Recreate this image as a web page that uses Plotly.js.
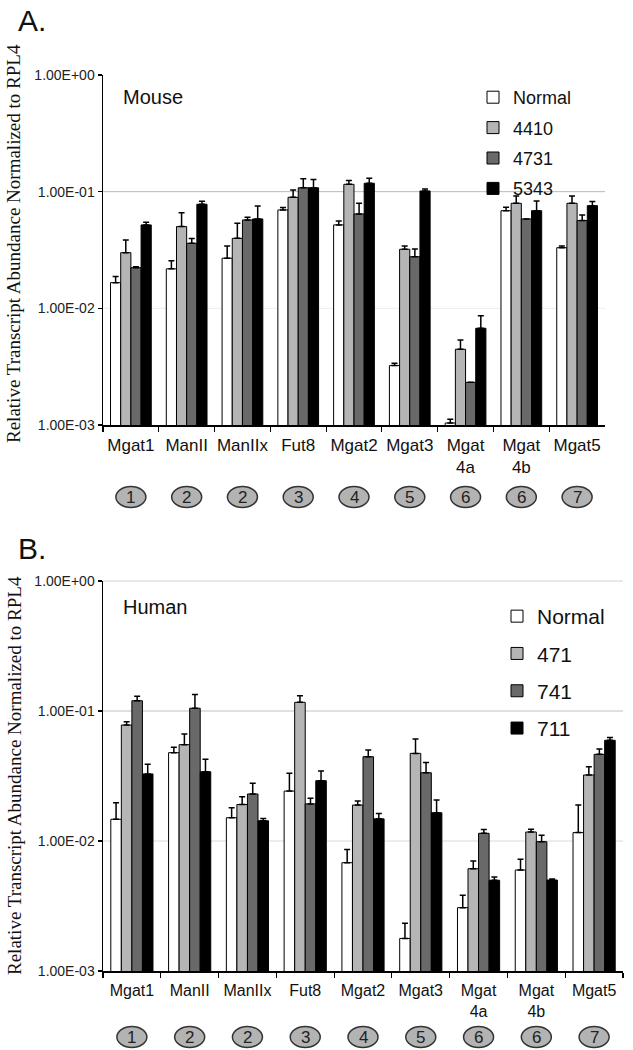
<!DOCTYPE html>
<html>
<head>
<meta charset="utf-8">
<script src="https://cdn.plot.ly/plotly-3.0.1.min.js"></script>
<style>html,body{margin:0;padding:0;background:#fff;}#chart{width:633px;height:1050px;}</style>
</head>
<body>
<div id="chart"></div>
<script>
// ---- data ----
const categories = ['Mgat1','ManII','ManIIx','Fut8','Mgat2','Mgat3','Mgat<br>4a','Mgat<br>4b','Mgat5'];
const groupNumbers = ['1','2','2','3','4','5','6','6','7'];
const yTickVals = [0.001, 0.01, 0.1, 1];
const yTickText = ['1.00E-03','1.00E-02','1.00E-01','1.00E+00'];

// Panel A: Mouse
const mouseSeriesNames = ['Normal','4410','4731','5343'];
const mouseNormal    = [0.0166, 0.0218, 0.0269, 0.0697, 0.0519, 0.00323, 0.00104, 0.0687, 0.0331];
const mouseNormalErr = [0.0021, 0.0038, 0.0074, 0.0033, 0.0042, 0.00015, 0.00008, 0.0048, 0.0012];
const mouse4410      = [0.0300, 0.0502, 0.0398, 0.0895, 0.1156, 0.0321, 0.00446, 0.0795, 0.0795];
const mouse4410Err   = [0.0086, 0.0158, 0.0138, 0.0140, 0.0089, 0.0022, 0.0009, 0.0124, 0.0124];
const mouse4731      = [0.0223, 0.0361, 0.0572, 0.1080, 0.0644, 0.0277, 0.00232, 0.0584, 0.0565];
const mouse4731Err   = [0.0004, 0.0035, 0.0031, 0.0210, 0.0151, 0.0046, 0, 0, 0.0066];
const mouse5343      = [0.0519, 0.0780, 0.0584, 0.1080, 0.1180, 0.1014, 0.00675, 0.0687, 0.0759];
const mouse5343Err   = [0.0028, 0.0048, 0.0170, 0.0190, 0.0120, 0.0041, 0.0019, 0.0145, 0.0063];

// Panel B: Human
const humanSeriesNames = ['Normal','471','741','711'];
const humanNormal    = [0.0147, 0.0478, 0.0151, 0.0242, 0.00681, 0.00178, 0.00307, 0.00598, 0.0116];
const humanNormalErr = [0.0050, 0.0048, 0.0029, 0.0090, 0.0018, 0.00055, 0.00075, 0.00125, 0.0073];
const human471       = [0.0780, 0.0551, 0.0191, 0.1166, 0.0189, 0.0472, 0.00612, 0.01173, 0.0322];
const human471Err    = [0.0048, 0.0114, 0.0028, 0.0144, 0.0014, 0.0138, 0.0009, 0.0006, 0.0051];
const human741       = [0.1200, 0.1050, 0.0230, 0.0193, 0.0445, 0.0335, 0.01146, 0.00988, 0.0464];
const human741Err    = [0.0100, 0.0290, 0.0048, 0.0020, 0.0056, 0.0066, 0.0008, 0.0012, 0.0046];
const human711       = [0.0328, 0.0341, 0.0143, 0.0291, 0.0148, 0.0165, 0.00499, 0.00501, 0.0595];
const human711Err    = [0.0061, 0.0084, 0.0006, 0.0054, 0.0015, 0.0042, 0.0003, 0.0001, 0.0030];

// ---- styling ----
const barColors = ['#ffffff', '#b5b5b5', '#696969', '#000000'];
const SANS = 'Liberation Sans, Arial, sans-serif';
const SERIF = 'Liberation Serif, Times New Roman, serif';

function barTrace(name, y, err, color, xa, ya, legend, group) {
  return {
    type: 'bar', name: name, x: categories, y: y,
    xaxis: xa, yaxis: ya, legend: legend, legendgroup: group,
    marker: {color: color, line: {color: '#000', width: 1}},
    error_y: {type: 'data', symmetric: false, array: err,
              arrayminus: err.map(() => 0), color: '#000', thickness: 1.5, width: 3},
    hoverinfo: 'x+y+name'
  };
}

const mouseVals = [mouseNormal, mouse4410, mouse4731, mouse5343];
const mouseErrs = [mouseNormalErr, mouse4410Err, mouse4731Err, mouse5343Err];
const humanVals = [humanNormal, human471, human741, human711];
const humanErrs = [humanNormalErr, human471Err, human741Err, human711Err];

const data = [];
mouseSeriesNames.forEach((n, i) => data.push(barTrace(n, mouseVals[i], mouseErrs[i], barColors[i], 'x', 'y', 'legend', 'a' + i)));
humanSeriesNames.forEach((n, i) => data.push(barTrace(n, humanVals[i], humanErrs[i], barColors[i], 'x2', 'y2', 'legend2', 'b' + i)));

const W = 633, H = 1050;
const px = v => v / W;
const py = v => 1 - v / H;

function xAxisDef(domain, anchor, fontSize) {
  return {
    domain: domain, anchor: anchor, type: 'category',
    showline: true, linecolor: '#000', linewidth: 1.5,
    ticks: 'outside', tickson: 'boundaries', ticklen: 5, tickcolor: '#000', tickwidth: 1.2,
    tickfont: {family: SANS, size: fontSize, color: '#111'},
    ticklabelstandoff: 4, tickangle: 0,
    showgrid: false, zeroline: false, fixedrange: true
  };
}
function yAxisDef(domain, anchor) {
  return {
    domain: domain, anchor: anchor, type: 'log', range: [-3, 0],
    tickvals: yTickVals, ticktext: yTickText,
    showline: true, linecolor: '#000', linewidth: 1.5,
    ticks: 'outside', ticklen: 4, tickcolor: '#000', tickwidth: 1.2,
    tickfont: {family: SANS, size: 14, color: '#222'},
    showgrid: false, zeroline: false, fixedrange: true
  };
}

const shapes = [];
// gridlines (style only)
function grid(xa, ya, frac, color) {
  shapes.push({type: 'line', xref: xa + ' domain', yref: ya + ' domain', x0: 0, x1: 1, y0: frac, y1: frac,
               line: {color: color, width: 1}, layer: 'below'});
}
grid('x', 'y', 2/3, '#b8b8b8');
grid('x', 'y', 1/3, '#ececec');
grid('x2', 'y2', 1, '#d0d0d0');
grid('x2', 'y2', 2/3, '#c0c0c0');
grid('x2', 'y2', 1/3, '#dadada');

const annotations = [];
function circles(xa, yCenterPx) {
  groupNumbers.forEach((num, i) => {
    shapes.push({type: 'circle', xref: xa, yref: 'paper', xsizemode: 'pixel', ysizemode: 'pixel',
                 xanchor: i, yanchor: py(yCenterPx), x0: -15, x1: 15, y0: -10.5, y1: 10.5,
                 fillcolor: '#b3b3b3', line: {color: '#333', width: 1.5}});
    annotations.push({xref: xa, yref: 'paper', x: categories[i], y: py(yCenterPx), text: num,
                      showarrow: false, xanchor: 'center', yanchor: 'middle',
                      font: {family: SANS, size: 17, color: '#222'}});
  });
}
circles('x', 497);
circles('x2', 1037);

function txt(text, xPx, yPx, size, opts) {
  annotations.push(Object.assign({xref: 'paper', yref: 'paper', x: px(xPx), y: py(yPx), text: text,
    showarrow: false, xanchor: 'left', yanchor: 'middle',
    font: {family: SANS, size: size, color: '#111'}}, opts || {}));
}
txt('A.', 16, 20, 30);
txt('B.', 16, 548, 30);
txt('Mouse', 121, 97, 20);
txt('Human', 121, 607, 20);
const yTitle = 'Relative Transcript Abundance Normalized to RPL4';
txt(yTitle, 14, 244, 19, {xanchor: 'center', textangle: -90, font: {family: SERIF, size: 19, color: '#111'}});
txt(yTitle, 14, 776, 19, {xanchor: 'center', textangle: -90, font: {family: SERIF, size: 19, color: '#111'}});

const layout = {
  width: W, height: H, autosize: false,
  margin: {l: 0, r: 0, t: 0, b: 0},
  paper_bgcolor: '#fff', plot_bgcolor: 'rgba(0,0,0,0)',
  barmode: 'group', bargap: 0.27, bargroupgap: 0,
  xaxis: xAxisDef([px(103), px(605)], 'y', 17),
  yaxis: yAxisDef([py(425), py(75)], 'x'),
  xaxis2: xAxisDef([px(103), px(623)], 'y2', 16),
  yaxis2: yAxisDef([py(971), py(581)], 'x2'),
  legend: {x: px(473), y: py(79), xanchor: 'left', yanchor: 'top', bgcolor: 'rgba(0,0,0,0)',
           font: {family: SANS, size: 18, color: '#111'}, tracegroupgap: 4, traceorder: 'grouped'},
  legend2: {x: px(497), y: py(596), xanchor: 'left', yanchor: 'top', bgcolor: 'rgba(0,0,0,0)',
           font: {family: SANS, size: 21, color: '#111'}, tracegroupgap: 7, traceorder: 'grouped'},
  shapes: shapes,
  annotations: annotations,
  showlegend: true
};

Plotly.newPlot('chart', data, layout, {displayModeBar: false, staticPlot: true});
</script>
</body>
</html>
